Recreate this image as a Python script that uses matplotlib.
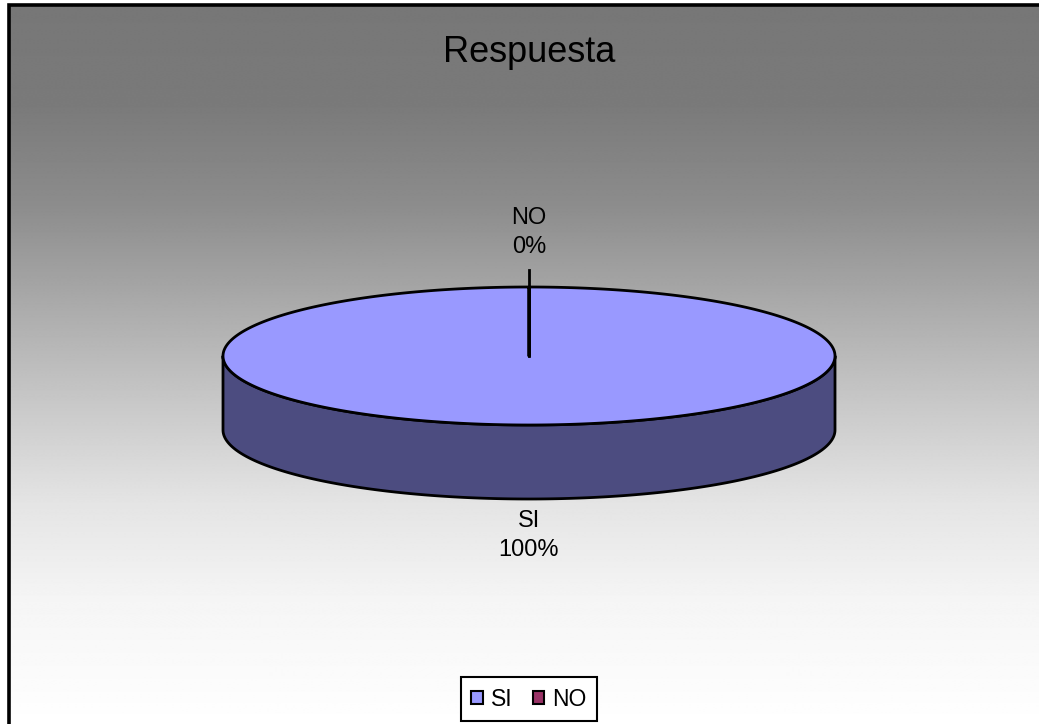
import numpy as np
import matplotlib.pyplot as plt
from matplotlib.patches import Polygon, Patch

# ── Data ─────────────────────────────────────────────
labels = ['SI', 'NO']
values = [100, 0]
top_colors = ['#9999ff', '#993366']
side_colors = ['#4c4c80', '#4d1a33']
title = 'Respuesta'

# ── Canvas (pixel coordinates, y downwards) ──────────
W, H = 1039, 724
fig = plt.figure(figsize=(W / 100, H / 100), dpi=100)
ax = fig.add_axes([0, 0, 1, 1])
ax.set_xlim(0, W)
ax.set_ylim(H, 0)
ax.axis('off')

# chart area: grey-to-white vertical gradient inside a black frame
left, top = 9, 5
gy = [0, 100, 200, 300, 400, 500, 600, 690, H]
gv = [119, 122, 140, 170, 200, 228, 245, 252, 255]
shade = np.interp(np.arange(H), gy, gv) / 255.0
grad = np.repeat(shade[:, None], 2, axis=1)
ax.imshow(grad, cmap='gray', vmin=0, vmax=1, aspect='auto',
          extent=[left, W + 5, H, top], zorder=0, interpolation='bilinear')
ax.plot([left, left, W + 5], [H + 5, top, top], color='black', lw=2.6,
        solid_joinstyle='miter', zorder=1)

# ── 3D pie ───────────────────────────────────────────
cx, cy = 529, 356       # centre of top face
a, b = 306, 69          # ellipse semi-axes
depth = 74              # thickness of the disc


def ell(theta_deg, dy=0.0):
    t = np.radians(theta_deg)
    return cx + a * np.cos(t), cy - b * np.sin(t) + dy


total = float(sum(values))
start = 90.0
slices = []
for v in values:
    sweep = 360.0 * v / total
    slices.append((start, start - sweep))   # clockwise
    start -= sweep

# side walls (only the front half, 180°..360°, is visible)
for (t0, t1), col in zip(slices, side_colors):
    if t0 == t1:
        continue
    for k in range(-1, 2):
        lo = max(min(t0, t1), -180 + 360 * k)
        hi = min(max(t0, t1), 0 + 360 * k)
        if hi <= lo:
            continue
        th = np.linspace(lo, hi, 200)
        xt, yt = ell(th)
        xb, yb = ell(th[::-1], depth)
        pts = np.column_stack([np.r_[xt, xb], np.r_[yt, yb]])
        ax.add_patch(Polygon(pts, closed=True, facecolor=col,
                             edgecolor='black', lw=2, joinstyle='round', zorder=2))

# top faces
for (t0, t1), col in zip(slices, top_colors):
    th = np.linspace(t0, t1, 400)
    xs, ys = ell(th)
    pts = np.column_stack([np.r_[cx, xs], np.r_[cy, ys]])
    ax.add_patch(Polygon(pts, closed=True, facecolor=col,
                         edgecolor='black', lw=2, joinstyle='round', zorder=3))

# data labels at each slice's mid angle
for lab, v, (t0, t1) in zip(labels, values, slices):
    mid = (t0 + t1) / 2.0
    ex, ey = ell(mid)
    pct = f'{lab}\n{v / total * 100:.0f}%'
    if np.sin(np.radians(mid)) >= 0:
        # label above the pie with a leader line
        ly = ey - 17
        ax.plot([cx, ex, ex], [cy, ey, ly], color='black', lw=2, zorder=4)
        ax.text(ex, ly - 12, pct, ha='center', va='bottom', fontsize=17,
                family='Liberation Sans', linespacing=1.4, zorder=5)
    else:
        ax.text(ex, ey + depth + 11, pct, ha='center', va='top', fontsize=17,
                family='Liberation Sans', linespacing=1.4, zorder=5)

ax.text(cx, 62, title, ha='center', va='baseline', fontsize=26,
        family='Liberation Sans', zorder=5)

# legend
handles = [Patch(facecolor=c, edgecolor='black', lw=1.5) for c in top_colors]
leg = fig.legend(handles, labels, loc='lower center', ncol=2,
                 bbox_to_anchor=(cx / W, 3 / H), frameon=True, fancybox=False,
                 edgecolor='black', framealpha=1, facecolor='white',
                 prop={'family': 'Liberation Sans', 'size': 16.5},
                 handlelength=0.5, handleheight=0.5, handletextpad=0.35,
                 columnspacing=0.9, borderpad=0.45, borderaxespad=0)
leg.get_frame().set_linewidth(1.5)

fig.savefig('out.png', dpi=100)
